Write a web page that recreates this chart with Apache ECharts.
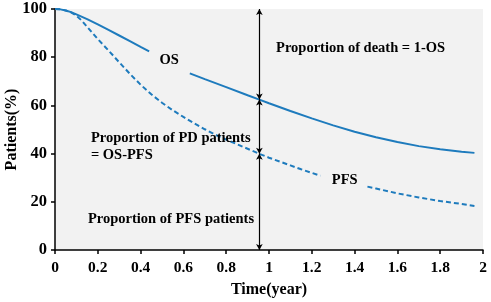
<!DOCTYPE html>
<html>
<head>
<meta charset="utf-8">
<script src="https://cdn.jsdelivr.net/npm/echarts@6/dist/echarts.min.js"></script>
<style>
html,body{margin:0;padding:0;background:#fff;}
#c{width:491px;height:302px;}
</style>
</head>
<body>
<div id="c"></div>
<script>
// OS curve (solid), split around the "OS" label
var osSeg1 = [[0,100],[0.025,99.85],[0.05,99.4],[0.075,98.7],[0.1,97.8],[0.15,95.8],[0.2,93.6],[0.25,91.3],[0.3,89.0],[0.35,86.7],[0.4,84.3],[0.44,82.4]];
var osSeg2 = [[0.63,73.3],[0.7,70.9],[0.8,67.6],[0.9,64.2],[0.955,62.4],[1.0,60.9],[1.1,57.7],[1.2,54.6],[1.3,51.7],[1.4,49.1],[1.5,46.8],[1.6,44.8],[1.7,43.1],[1.8,41.8],[1.9,40.8],[1.96,40.3]];
// PFS curve (dashed), split around the "PFS" label
var pfsSeg1 = [[0,100],[0.025,99.85],[0.05,99.4],[0.075,98.6],[0.1,97.2],[0.125,95.2],[0.15,92.6],[0.2,87.5],[0.25,82.8],[0.3,77.9],[0.35,73.1],[0.4,68.6],[0.45,64.6],[0.5,61.1],[0.55,58.0],[0.6,55.2],[0.65,52.6],[0.7,50.1],[0.75,47.8],[0.8,45.8],[0.85,43.9],[0.9,42.0],[0.955,39.9],[1.0,38.3],[1.05,36.7],[1.1,35.1],[1.15,33.5],[1.2,32.0],[1.24,30.8]];
var pfsSeg2 = [[1.46,26.3],[1.5,25.5],[1.6,23.5],[1.7,21.8],[1.8,20.3],[1.9,19.1],[1.96,18.3]];
// arrow positions (time, values)
var arrowT = 0.955;
var arrowOS = 62.4;
var arrowPFS = 39.9;
// annotation texts: [time, value, text, align]
var notes = [
  [1.033, 83.8, 'Proportion of death = 1-OS', 'left'],
  [0.533, 78.8, 'OS', 'center'],
  [0.168, 46.5, 'Proportion of PD patients', 'left'],
  [0.168, 39.4, '= OS-PFS', 'left'],
  [0.154, 12.9, 'Proportion of PFS patients', 'left'],
  [1.354, 29.0, 'PFS', 'center']
];
var xTicks = {min:0, max:2, interval:0.2};
var yTicks = {min:0, max:100, interval:20};

var FONT = '"Liberation Serif","Times New Roman",serif';
var BLUE = '#1e7bbd';
var chart = echarts.init(document.getElementById('c'), null, {renderer:'canvas'});

var opt = {
  animation:false,
  grid:{left:55, right:8, top:9, bottom:52, show:true, backgroundColor:'#f2f2f2', borderWidth:0, outerBoundsMode:'none', containLabel:false},
  xAxis:{
    type:'value', min:xTicks.min, max:xTicks.max, interval:xTicks.interval,
    name:'Time(year)', nameLocation:'middle', nameGap:32, nameMoveOverlap:false,
    nameTextStyle:{fontFamily:FONT, fontWeight:'bold', fontSize:16, color:'#000'},
    axisLine:{show:true, lineStyle:{color:'#000', width:1.5}},
    axisTick:{show:true, length:4, lineStyle:{color:'#000', width:1.5}},
    axisLabel:{fontFamily:FONT, fontWeight:'bold', fontSize:15.5, color:'#000', margin:10},
    splitLine:{show:false}
  },
  yAxis:{
    type:'value', min:yTicks.min, max:yTicks.max, interval:yTicks.interval,
    name:'Patients(%)', nameLocation:'middle', nameGap:35, nameMoveOverlap:false,
    nameTextStyle:{fontFamily:FONT, fontWeight:'bold', fontSize:16, color:'#000'},
    axisLine:{show:true, lineStyle:{color:'#000', width:1.5}},
    axisTick:{show:true, length:4, lineStyle:{color:'#000', width:1.5}},
    axisLabel:{fontFamily:FONT, fontWeight:'bold', fontSize:16.5, color:'#000', margin:8},
    splitLine:{show:false}
  },
  series:[
    {type:'line', name:'OS', data:osSeg1.concat([['-','-']]).concat(osSeg2), showSymbol:false, connectNulls:false,
     smooth:false,
     lineStyle:{color:BLUE, width:2}, z:3},
    {type:'line', name:'PFS', data:pfsSeg1.concat([['-','-']]).concat(pfsSeg2), showSymbol:false, connectNulls:false,
     smooth:false,
     lineStyle:{color:BLUE, width:2, type:[5,3]}, z:3,
     markLine:{
       silent:true, symbol:['arrow','arrow'], symbolSize:[5,6],
       lineStyle:{color:'#000', width:1.2, type:'solid'},
       label:{show:false},
       data:[
         [{coord:[arrowT,100]},{coord:[arrowT,arrowOS]}],
         [{coord:[arrowT,arrowOS]},{coord:[arrowT,arrowPFS]}],
         [{coord:[arrowT,arrowPFS]},{coord:[arrowT,0]}]
       ]
     }}
  ]
};
chart.setOption(opt);

var g = notes.map(function(n){
  var p = chart.convertToPixel({gridIndex:0}, [n[0], n[1]]);
  return {type:'text', x:p[0], y:p[1], z:10,
    style:{text:n[2], fontFamily:FONT, fontWeight:'bold', fontSize:14.5, fill:'#000', align:n[3], verticalAlign:'middle'}};
});
chart.setOption({graphic:g});
</script>
</body>
</html>
